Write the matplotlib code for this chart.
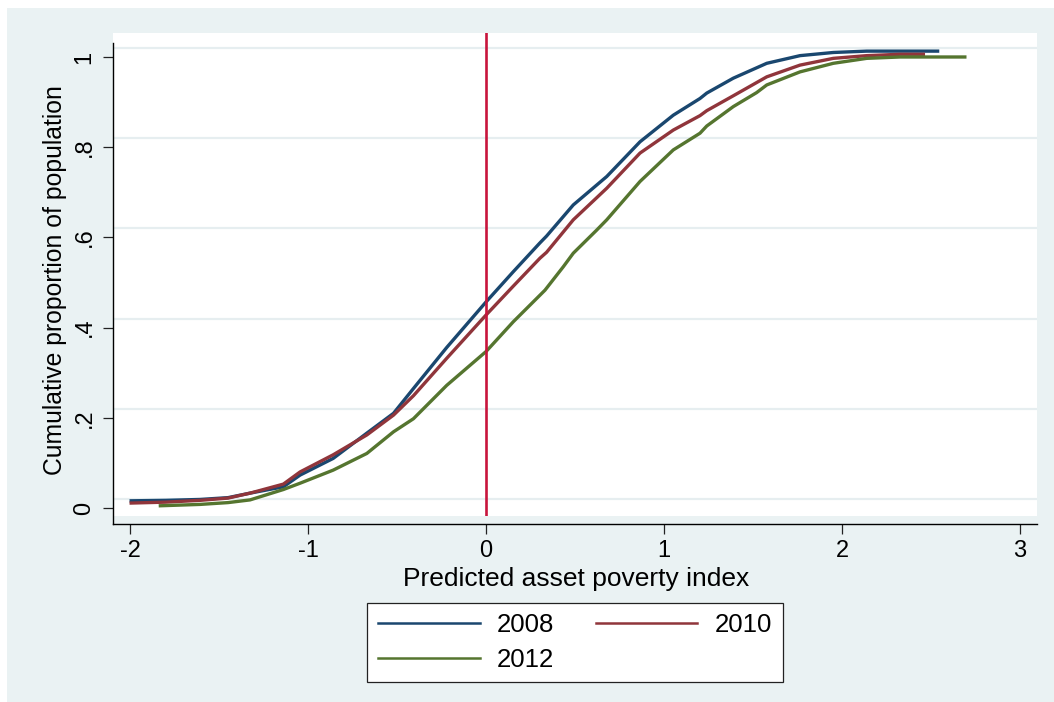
import matplotlib
matplotlib.use("Agg")
import matplotlib.pyplot as plt
from matplotlib.patches import Rectangle

plt.rcParams['font.family'] = ['Liberation Sans', 'DejaVu Sans']

# ---- data ----
x2008 = [-1.994, -1.8, -1.607, -1.45, -1.326, -1.139, -1.045, -0.859, -0.67, -0.52,
         -0.408, -0.221, 0.0, 0.153, 0.303, 0.34, 0.49, 0.678, 0.865, 1.052, 1.202,
         1.24, 1.389, 1.577, 1.764, 1.951, 2.139, 2.326, 2.537]
y2008 = [0.016, 0.017, 0.019, 0.023, 0.033, 0.047, 0.073, 0.110, 0.166, 0.21,
         0.265, 0.356, 0.457, 0.524, 0.588, 0.603, 0.672, 0.735, 0.812, 0.871, 0.908,
         0.92, 0.953, 0.986, 1.003, 1.010, 1.013, 1.013, 1.013]

x2010 = [-1.994, -1.8, -1.607, -1.45, -1.326, -1.139, -1.045, -0.859, -0.67, -0.52,
         -0.408, -0.221, 0.0, 0.153, 0.303, 0.34, 0.49, 0.678, 0.865, 1.052, 1.202,
         1.24, 1.389, 1.577, 1.764, 1.951, 2.139, 2.326, 2.457]
y2010 = [0.011, 0.013, 0.017, 0.022, 0.033, 0.053, 0.080, 0.118, 0.162, 0.206,
         0.249, 0.332, 0.428, 0.492, 0.554, 0.567, 0.639, 0.709, 0.787, 0.838, 0.870,
         0.881, 0.914, 0.956, 0.982, 0.997, 1.003, 1.006, 1.006]

x2012 = [-1.83, -1.607, -1.45, -1.326, -1.139, -1.045, -0.859, -0.67, -0.52, -0.408,
         -0.221, 0.0, 0.153, 0.331, 0.434, 0.49, 0.621, 0.678, 0.865, 1.052, 1.202,
         1.24, 1.389, 1.52, 1.577, 1.764, 1.951, 2.139, 2.326, 2.69]
y2012 = [0.005, 0.008, 0.012, 0.018, 0.041, 0.055, 0.084, 0.121, 0.169, 0.198,
         0.272, 0.347, 0.413, 0.483, 0.535, 0.565, 0.616, 0.639, 0.724, 0.794, 0.831,
         0.847, 0.89, 0.921, 0.938, 0.967, 0.986, 0.997, 1.0, 1.0]

series_labels = ['2008', '2010', '2012']
series_colors = ['#1A476F', '#90353B', '#55752F']

xticks = [-2, -1, 0, 1, 2, 3]
xtick_labels = ['-2', '-1', '0', '1', '2', '3']
yticks = [0, 0.2, 0.4, 0.6, 0.8, 1.0]
ytick_labels = ['0', '.2', '.4', '.6', '.8', '1']
cutoff = 0.0

# ---- figure ----
W, H = 1054, 702
fig = plt.figure(figsize=(W / 100, H / 100), dpi=100, facecolor='white')
bg = '#EAF2F3'
fig.add_artist(Rectangle((7 / W, 0), 1, (H - 8) / H, transform=fig.transFigure,
                         facecolor=bg, edgecolor='none', zorder=-10))

left_px, right_px, top_px, bot_px = 112.5, 1037, 33, 516
ax = fig.add_axes([left_px / W, (H - bot_px) / H, (right_px - left_px) / W, (bot_px - top_px) / H])
ax.set_facecolor('white')

ax.set_xlim(-2.099, 3.0955)
ax.set_ylim(-0.0177, 1.0532)

# grid lines (slightly offset above ticks as in the reference)
for yt in yticks:
    ax.axhline(yt + 0.02, color='#E6EEF0', lw=1.6, zorder=0)

handles = []
for xs, ys, lab, col in zip([x2008, x2010, x2012], [y2008, y2010, y2012], series_labels, series_colors):
    h, = ax.plot(xs, ys, color=col, lw=2.4, label=lab, zorder=3, solid_joinstyle='round')
    handles.append(h)

ax.axvline(cutoff, color='#C8143C', lw=1.9, zorder=4)

# spines
ax.spines['top'].set_visible(False)
ax.spines['right'].set_visible(False)
ax.spines['left'].set_bounds(-0.0355, 1.031)
ax.spines['left'].set_linewidth(1.0)
ax.spines['bottom'].set_position(('outward', 5.8))
ax.spines['bottom'].set_linewidth(1.0)

ax.set_xticks(xticks)
ax.set_xticklabels(xtick_labels)
ax.set_yticks(yticks)
ax.set_yticklabels(ytick_labels, rotation=90, va='center')
ax.tick_params(axis='both', length=7.2, width=0.9, color='#222222', labelsize=17, labelcolor='black')
ax.tick_params(axis='x', pad=4.5)
ax.tick_params(axis='y', pad=5)

fig.text(576 / W, 1 - 586 / H, 'Predicted asset poverty index', ha='center', va='baseline', fontsize=19)
fig.text(55 / W, 1 - 280 / H, 'Cumulative proportion of population', ha='center', va='center',
         rotation=90, fontsize=17.8)

# row-major order: 2008, 2010 on the first row, 2012 on the second
order = [0, 2, 1]
leg = fig.legend([handles[i] for i in order], [series_labels[i] for i in order],
                 loc='center', bbox_to_anchor=(575 / W, 1 - 642.5 / H), ncol=2,
                 fontsize=18.5, handlelength=3.95, handletextpad=0.66, columnspacing=1.63,
                 borderpad=0.42, labelspacing=0.4, fancybox=False, framealpha=1,
                 edgecolor='#222222', frameon=True)
leg.get_frame().set_linewidth(0.9)
for ln in leg.get_lines():
    ln.set_linewidth(1.8)

fig.savefig('out.png', dpi=100, facecolor=fig.get_facecolor())
